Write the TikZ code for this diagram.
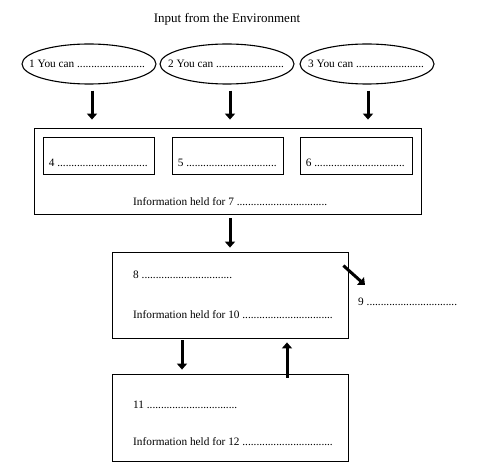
\documentclass[tikz,border=0pt]{standalone}
\usepackage{fontspec}
\setmainfont{Liberation Serif}
\usetikzlibrary{shapes.geometric,arrows.meta,positioning}

\newcommand{\gap}{................................}
\newcommand{\shortgap}{........................}

\tikzset{
  oval/.style={draw, line width=1.1pt, ellipse, minimum width=134pt, minimum height=40pt, inner sep=0pt},
  box/.style={draw, line width=0.8pt, inner sep=0pt},
  txt/.style={anchor=west, inner sep=0pt, font=\fontsize{11.3}{13}\selectfont},
  bigarrow/.style={line width=3pt, -{Triangle[length=6pt,width=10pt]}}
}

\begin{document}
\begin{tikzpicture}[x=1pt, y=-1pt]
    \useasboundingbox (0,0) rectangle (498,473);

    % Title
    \node[font=\fontsize{13}{15}\selectfont] (title) at (227,19) {Input from the Environment};

    % Senses
    \node[oval] (e1) at (89,64) {};
    \node[oval] (e2) at (227,64) {};
    \node[oval] (e3) at (367,64) {};
    \node[txt, anchor=center] (s1) at ([xshift=-2pt]e1) {1 You can \shortgap};
    \node[txt, anchor=center] (s2) at ([xshift=-1pt]e2) {2 You can \shortgap};
    \node[txt, anchor=center] (s3) at ([xshift=-1pt]e3) {3 You can \shortgap};

    % Sensory memory
    \node[box, minimum width=387pt, minimum height=86pt] (stm) at (227.5,171) {};
    \node[box, minimum width=111pt, minimum height=37pt] (b4) at (98.5,155.5) {};
    \node[box, minimum width=111pt, minimum height=37pt] (b5) at (227.5,155.5) {};
    \node[box, minimum width=112pt, minimum height=37pt] (b6) at (356,155.5) {};
    \node[txt] (t4) at ([xshift=6pt,yshift=-7pt]b4.west) {4 \gap};
    \node[txt] (t5) at ([xshift=6pt,yshift=-7pt]b5.west) {5 \gap};
    \node[txt] (t6) at ([xshift=6pt,yshift=-7pt]b6.west) {6 \gap};
    \node[txt] (t7) at (133,202) {Information held for 7 \gap};

    % Short term memory
    \node[box, minimum width=236pt, minimum height=86pt] (wm) at (230,295) {};
    \node[txt] (t8) at (133,275) {8 \gap};
    \node[txt] (t10) at (133,315) {Information held for 10 \gap};
    \node[txt] (t9) at (358,302) {9 \gap};

    % Long term memory
    \node[box, minimum width=236pt, minimum height=87pt] (ltm) at (230,417.5) {};
    \node[txt] (t11) at (133,405) {11 \gap};
    \node[txt] (t12) at (133,442) {Information held for 12 \gap};

    % Arrows
    \draw[bigarrow] ([xshift=3pt,yshift=-6pt]e1.south) -- ([xshift=3pt,yshift=8pt]e1.south |- stm.north);
    \draw[bigarrow] ([xshift=3pt,yshift=-6pt]e2.south) -- ([xshift=3pt,yshift=8pt]e2.south |- stm.north);
    \draw[bigarrow] ([xshift=1pt,yshift=-6pt]e3.south) -- ([xshift=1pt,yshift=8pt]e3.south |- stm.north);
    \draw[bigarrow] ([xshift=2.5pt,yshift=-4pt]stm.south) -- ([yshift=4pt]wm.north);
    \draw[bigarrow] ([xshift=-5pt,yshift=-14pt]wm.north east) -- ([xshift=7pt,yshift=13pt]t9.north west);
    \draw[bigarrow] ([xshift=-48pt,yshift=-2pt]wm.south) -- ([xshift=-48pt,yshift=4pt]ltm.north);
    \draw[bigarrow] ([xshift=57pt,yshift=-4pt]ltm.north) -- ([xshift=57pt,yshift=-4pt]wm.south);
\end{tikzpicture}
\end{document}
